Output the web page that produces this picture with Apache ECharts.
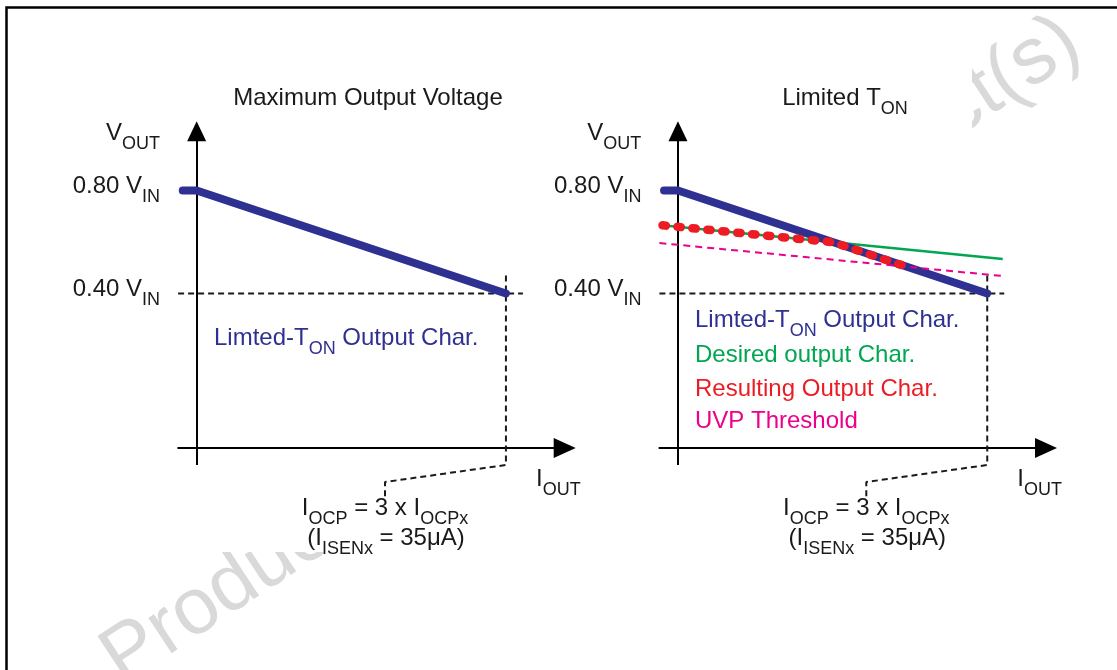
<!DOCTYPE html>
<html>
<head>
<meta charset="utf-8">
<script src="https://cdn.jsdelivr.net/npm/echarts@6/dist/echarts.min.js"></script>
<style>
  html, body { margin: 0; padding: 0; background: #fff; }
  #chart { width: 1117px; height: 670px; }
</style>
</head>
<body>
<div id="chart"></div>
<script>
// Output current is in units of I_OCP (over-current point at 1); V_OUT in units of V_IN.
const limitedX  = [-0.045, 0, 1];
const limitedY  = [0.80, 0.80, 0.40];
const desiredX  = [-0.06, 1.05];
const desiredY  = [0.666, 0.534];
const uvpX      = [-0.06, 1.05];
const uvpY      = [0.596, 0.468];
const resultX   = [-0.05, 0.502, 0.734];
const resultY   = [0.665, 0.599, 0.506];
const yTickValues = [0.40, 0.80];
const yTickNames  = ['0.40', '0.80'];
const refLevelX = [-0.06, 1.055];          // dashed 0.40 V_IN guide
const refLevelY = [0.40, 0.40];
const ocpMarkerX = [1, 1, 0.609, 0.609];   // I_OCP leader down to its note
const ocpMarkerY = [0.47, -0.266, -0.332, -0.39];

const FONT = '"Liberation Sans", Arial, Helvetica, sans-serif';
const BLUE = '#2e3192', GREEN = '#00a651', RED = '#ed1c24', PINK = '#ec008c', INK = '#1a1a1a';

const pairs = (xs, ys) => xs.map((x, i) => [x, ys[i]]);

// main text + subscript
function richSet(color) {
  return {
    m: { fontFamily: FONT, fontSize: 24, lineHeight: 24, verticalAlign: 'top', color: color, fill: color },
    s: { fontFamily: FONT, fontSize: 18, lineHeight: 18, verticalAlign: 'top', padding: [14, 0, 0, 0], color: color, fill: color }
  };
}

const PANEL_LEFT = [178.1, 659.4];
const GRID_TOP = 131.3, GRID_W = 386.6, GRID_H = 316.7;

const grids = PANEL_LEFT.map(l => ({ left: l, top: GRID_TOP, width: GRID_W, height: GRID_H, outerBoundsMode: 'none', containLabel: false }));

const xAxes = [0, 1].map(i => ({
  type: 'value', gridIndex: i, min: -0.06, max: 1.19,
  axisLine: { onZero: false, lineStyle: { color: '#000', width: 2 }, symbol: ['none', 'triangle'], symbolSize: [20, 22] },
  axisTick: { show: true, customValues: [0], length: 17, lineStyle: { color: '#000', width: 2 } },
  axisLabel: { show: false },
  splitLine: { show: false }
}));

const yAxes = [0, 1].map(i => ({
  type: 'value', gridIndex: i, min: -0.2, max: 1.03,
  axisLine: { onZero: true, lineStyle: { color: '#000', width: 2 }, symbol: ['none', 'triangle'], symbolSize: [19, 20] },
  axisTick: { show: false },
  axisLabel: {
    customValues: yTickValues,
    margin: 18,
    padding: [0, 0, 8, 0],
    formatter: v => {
      const k = yTickValues.findIndex(t => Math.abs(t - v) < 1e-9);
      return k < 0 ? '' : '{m|' + yTickNames[k] + ' V}{s|IN}';
    },
    rich: richSet(INK)
  },
  splitLine: { show: false }
}));

function line(name, grid, xs, ys, style, z, extra) {
  return Object.assign({
    name: name, type: 'line', xAxisIndex: grid, yAxisIndex: grid,
    data: pairs(xs, ys), symbol: 'none', showSymbol: false, silent: true,
    animation: false, z: z, lineStyle: style
  }, extra || {});
}

const dashedBlack = { color: INK, width: 2, type: [6, 4] };
const series = [];
[0, 1].forEach(g => {
  series.push(line('0.40 V_IN', g, refLevelX, refLevelY, dashedBlack, 1));
  series.push(line('I_OCP', g, ocpMarkerX, ocpMarkerY, dashedBlack, 1, { clip: false }));
});
series.push(line('Limted-TON Output Char.', 0, limitedX, limitedY, { color: BLUE, width: 8, cap: 'round', join: 'round' }, 3));
series.push(line('Desired output Char.', 1, desiredX, desiredY, { color: GREEN, width: 2.5 }, 2));
series.push(line('Limted-TON Output Char.', 1, limitedX, limitedY, { color: BLUE, width: 8, cap: 'round', join: 'round' }, 3));
series.push(line('UVP Threshold', 1, uvpX, uvpY, { color: PINK, width: 2, type: [7, 5] }, 4));
series.push(line('Resulting Output Char.', 1, resultX, resultY, { color: RED, width: 8.5, type: [3.5, 11.5], cap: 'round' }, 5));

function txt(text, x, y, color, align) {
  return {
    type: 'text', x: x, y: y, z: 20, silent: true,
    style: { text: text, rich: richSet(color), fill: color, align: align || 'left', verticalAlign: 'top', textAlign: align || 'left', textVerticalAlign: 'top' }
  };
}

const PANEL_SHIFT = 481.3;
const texts = [];
[0, 1].forEach(p => {
  const dx = p * PANEL_SHIFT;
  texts.push(txt('{m|V}{s|OUT}', 160 + dx, 121, INK, 'right'));
  texts.push(txt('{m|I}{s|OUT}', 536 + dx, 467, INK, 'left'));
  texts.push(txt('{m|I}{s|OCP}{m| = 3 x I}{s|OCPx}', 385 + dx, 496.4, INK, 'center'));
  texts.push(txt('{m|(I}{s|ISENx}{m| = 35\u03bcA)}', 386 + dx, 526.5, INK, 'center'));
});
texts.push(txt('{m|Maximum Output Voltage}', 368, 86.5, INK, 'center'));
texts.push(txt('{m|Limited T}{s|ON}', 845, 86.5, INK, 'center'));
texts.push(txt('{m|Limted-T}{s|ON}{m| Output Char.}', 214, 326.5, BLUE, 'left'));
texts.push(txt('{m|Limted-T}{s|ON}{m| Output Char.}', 695, 308.4, BLUE, 'left'));
texts.push(txt('{m|Desired output Char.}', 695, 343.2, GREEN, 'left'));
texts.push(txt('{m|Resulting Output Char.}', 695, 377.2, RED, 'left'));
texts.push(txt('{m|UVP Threshold}', 695, 409, PINK, 'left'));

// page watermark, sitting behind the white figure panel
const WM_ANGLE = 33.3 * Math.PI / 180;
const deco = [
  { type: 'text', x: -176, y: 855, rotation: WM_ANGLE, z: -3, silent: true,
    style: { text: 'Obsolete Product(s) - Obsolete Product(s)', font: '80px "Liberation Sans", Arial, sans-serif', fill: '#d9d9d9', align: 'left', verticalAlign: 'middle' } },
  { type: 'rect', z: -2, silent: true, shape: { x: 9, y: 9, width: 963, height: 543 }, style: { fill: '#fff' } },
  // figure frame
  { type: 'polyline', z: 30, silent: true, shape: { points: [[6.5, 700], [6.5, 7.5], [1130, 7.5]] }, style: { stroke: '#000', lineWidth: 2.5, fill: null } }
];

const chart = echarts.init(document.getElementById('chart'));
chart.setOption({
  animation: false,
  backgroundColor: '#fff',
  grid: grids,
  xAxis: xAxes,
  yAxis: yAxes,
  series: series,
  graphic: { elements: deco.concat(texts) }
});
</script>
</body>
</html>
